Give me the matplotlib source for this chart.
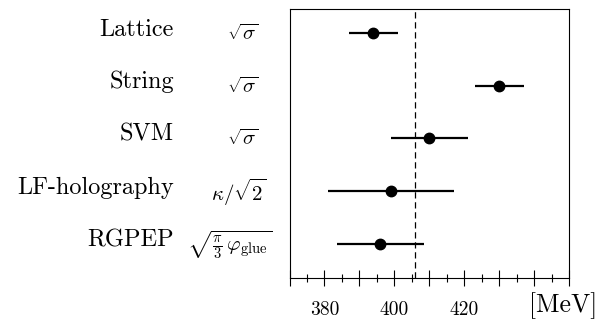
import matplotlib
matplotlib.use("Agg")
import matplotlib.pyplot as plt
from matplotlib.ticker import MultipleLocator
import matplotlib.transforms as mtransforms

plt.rcParams['font.family'] = 'serif'
plt.rcParams['font.serif'] = ['cmr10']
plt.rcParams['mathtext.fontset'] = 'cm'
plt.rcParams['axes.formatter.use_mathtext'] = True

# data
methods = ["Lattice", "String", "SVM", "LF-holography", "RGPEP"]
quantities = [r"$\sqrt{\sigma}$", r"$\sqrt{\sigma}$", r"$\sqrt{\sigma}$",
              r"$\kappa/\sqrt{2}$", r"$\sqrt{\frac{\pi}{3}\,\varphi_{\rm glue}}$"]
values = [394, 430, 410, 399, 396]
errors = [7, 7, 11, 18, 12.4]
reference = 406
tick_values = [380, 400, 420]

fig = plt.figure(figsize=(6, 3.27), dpi=100)
ax = fig.add_axes([0.4825, 0.151, 0.4658, 0.8215])

rows = list(range(len(methods)))[::-1]
ax.errorbar(values, rows, xerr=errors, fmt='o', color='black', ms=7.5,
            elinewidth=1.6, capsize=0)
ax.axvline(reference, color='black', lw=0.9, ls=(0, (5, 3)))

ax.set_xlim(370, 450)
ax.set_ylim(-0.646, 4.456)
ax.set_yticks([])
ax.xaxis.set_major_locator(MultipleLocator(10))
ax.xaxis.set_minor_locator(MultipleLocator(5))
ax.xaxis.set_major_formatter(
    matplotlib.ticker.FuncFormatter(lambda v, p: str(int(v)) if int(v) in tick_values else ""))
ax.tick_params(axis='x', which='major', direction='inout', length=12, width=0.8,
               labelsize=14, pad=11)
ax.tick_params(axis='x', which='minor', direction='inout', length=6, width=0.8)
for s in ax.spines.values():
    s.set_linewidth(0.8)

fig.text(0.995, 0.045, "[MeV]", ha='right', va='baseline', fontsize=18.5)

trans = mtransforms.blended_transform_factory(fig.transFigure, ax.transData)
math_x = [243, 243, 243, 239, 230]
for r, name, q, mx in zip(rows, methods, quantities, math_x):
    ax.text(174 / 600, r - 0.05, name, transform=trans, ha='right', va='baseline',
            fontsize=17.5)
    ax.text(mx / 600, r - 0.02, q, transform=trans, ha='center', va='center',
            fontsize=15)

fig.savefig("out.png", dpi=100)
